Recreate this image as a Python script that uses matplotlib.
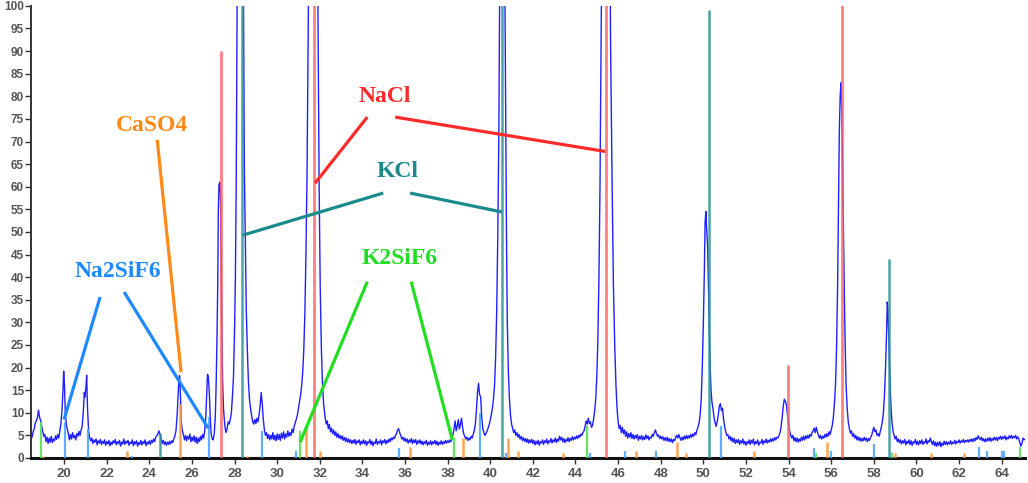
import matplotlib
matplotlib.use("Agg")
import matplotlib.pyplot as plt

scan = [
    (18.45, 5.5), (18.5, 4.6), (18.55, 5.8), (18.6, 6.5), (18.65, 7.8), (18.7, 8.2), (18.75, 9.0), (18.8, 10.6),
    (18.85, 9.0), (18.9, 8.3), (18.95, 7.0), (19.0, 5.8), (19.05, 4.8), (19.1, 5.2), (19.15, 3.6), (19.2, 4.6),
    (19.25, 3.2), (19.3, 4.4), (19.35, 3.5), (19.4, 4.8), (19.45, 3.4), (19.5, 4.2), (19.55, 3.8), (19.6, 4.9),
    (19.65, 4.1), (19.7, 5.2), (19.75, 4.4), (19.8, 6.0), (19.85, 7.5), (19.9, 10.5), (19.95, 15.0), (19.98, 19.2),
    (20.02, 16.0), (20.06, 9.5), (20.12, 7.0), (20.2, 5.4), (20.25, 4.0), (20.3, 5.2), (20.35, 4.2), (20.4, 5.6),
    (20.45, 4.5), (20.5, 5.0), (20.55, 4.0), (20.6, 5.4), (20.65, 4.8), (20.7, 5.9), (20.75, 5.0), (20.8, 6.2),
    (20.85, 7.0), (20.9, 10.0), (20.95, 14.5), (20.98, 13.5), (21.03, 16.0), (21.06, 18.3), (21.1, 11.0), (21.15, 6.0),
    (21.2, 4.5), (21.25, 3.8), (21.3, 4.4), (21.35, 3.2), (21.4, 4.0), (21.45, 3.5), (21.5, 4.2), (21.55, 2.9),
    (21.6, 3.8), (21.65, 3.3), (21.7, 4.1), (21.75, 3.0), (21.8, 3.7), (21.85, 3.2), (21.9, 4.0), (21.95, 2.8),
    (22.0, 3.6), (22.05, 3.1), (22.1, 3.9), (22.15, 2.7), (22.2, 3.5), (22.25, 3.0), (22.3, 3.8), (22.35, 3.3),
    (22.4, 4.1), (22.45, 2.9), (22.5, 3.6), (22.55, 3.2), (22.6, 3.9), (22.65, 2.6), (22.7, 3.5), (22.75, 3.1),
    (22.8, 4.2), (22.85, 3.0), (22.9, 3.7), (22.95, 3.3), (23.0, 3.9), (23.05, 2.8), (23.1, 3.5), (23.15, 3.2),
    (23.2, 4.0), (23.25, 2.7), (23.3, 3.6), (23.35, 3.1), (23.4, 3.8), (23.45, 2.6), (23.5, 3.4), (23.55, 3.0),
    (23.6, 3.9), (23.65, 2.9), (23.7, 3.6), (23.75, 3.2), (23.8, 4.0), (23.85, 2.7), (23.9, 3.5), (23.95, 3.1),
    (24.0, 3.8), (24.05, 3.0), (24.1, 3.9), (24.15, 3.4), (24.2, 4.2), (24.25, 3.6), (24.3, 4.6), (24.35, 4.9),
    (24.4, 5.3), (24.45, 6.0), (24.5, 5.2), (24.55, 4.4), (24.6, 3.2), (24.65, 3.9), (24.7, 3.0), (24.75, 3.6),
    (24.8, 2.8), (24.85, 3.5), (24.9, 3.0), (24.95, 3.7), (25.0, 3.1), (25.05, 3.8), (25.1, 3.4), (25.15, 4.2),
    (25.2, 4.9), (25.25, 6.0), (25.3, 9.0), (25.34, 13.0), (25.38, 16.5), (25.42, 18.2), (25.46, 14.0), (25.5, 8.0),
    (25.55, 6.0), (25.6, 5.2), (25.65, 4.0), (25.7, 5.0), (25.75, 3.8), (25.8, 4.8), (25.85, 4.2), (25.9, 5.3),
    (25.95, 3.6), (26.0, 4.6), (26.05, 3.8), (26.1, 4.9), (26.15, 3.5), (26.2, 4.6), (26.25, 3.2), (26.3, 4.4),
    (26.35, 3.6), (26.4, 4.8), (26.45, 4.0), (26.5, 5.2), (26.55, 4.4), (26.6, 6.0), (26.65, 9.0), (26.7, 15.0),
    (26.73, 18.5), (26.77, 18.0), (26.82, 14.0), (26.86, 9.0), (26.9, 5.5), (26.95, 4.2), (27.0, 4.0), (27.05, 5.5),
    (27.1, 9.5), (27.14, 17.0), (27.18, 28.0), (27.21, 38.0), (27.24, 55.0), (27.27, 60.5), (27.31, 61.0), (27.34, 58.0),
    (27.37, 45.0), (27.4, 30.0), (27.44, 17.0), (27.48, 11.0), (27.52, 8.5), (27.56, 6.5), (27.6, 5.6), (27.65, 6.5),
    (27.7, 8.0), (27.75, 7.5), (27.8, 8.5), (27.85, 10.0), (27.9, 13.5), (27.95, 18.0), (28.0, 28.0), (28.04, 40.0),
    (28.08, 62.0), (28.12, 100.0), (28.2, 160.0), (28.3, 170.0), (28.4, 120.0), (28.46, 64.0), (28.5, 50.0), (28.55, 33.0),
    (28.6, 24.0), (28.65, 17.0), (28.7, 13.0), (28.78, 10.0), (28.85, 8.0), (28.9, 7.5), (28.95, 8.5), (29.0, 7.6),
    (29.05, 8.8), (29.1, 8.0), (29.15, 9.5), (29.2, 11.5), (29.25, 14.5), (29.3, 12.0), (29.35, 8.5), (29.4, 6.2),
    (29.45, 5.0), (29.5, 5.6), (29.55, 4.3), (29.6, 5.2), (29.65, 4.0), (29.7, 5.0), (29.75, 4.2), (29.8, 5.6),
    (29.85, 4.0), (29.9, 5.0), (29.95, 3.8), (30.0, 5.3), (30.05, 4.1), (30.1, 5.2), (30.15, 3.9), (30.2, 5.5),
    (30.25, 4.4), (30.3, 5.8), (30.35, 4.2), (30.4, 5.3), (30.45, 4.6), (30.5, 6.0), (30.55, 4.8), (30.6, 5.6),
    (30.65, 5.0), (30.7, 6.4), (30.75, 5.6), (30.8, 7.0), (30.85, 7.8), (30.9, 8.6), (30.95, 9.5), (31.0, 11.0),
    (31.05, 12.5), (31.1, 14.0), (31.15, 16.0), (31.2, 19.0), (31.25, 24.0), (31.3, 32.0), (31.35, 45.0), (31.4, 62.0),
    (31.45, 90.0), (31.55, 150.0), (31.7, 190.0), (31.85, 150.0), (31.92, 95.0), (31.97, 60.0), (32.02, 38.0), (32.07, 25.0),
    (32.12, 17.0), (32.18, 12.0), (32.25, 9.0), (32.3, 7.5), (32.35, 8.2), (32.4, 6.5), (32.45, 7.4), (32.5, 5.8),
    (32.55, 6.6), (32.6, 5.4), (32.65, 6.2), (32.7, 5.0), (32.75, 5.8), (32.8, 4.6), (32.85, 5.4), (32.9, 4.4),
    (32.95, 5.0), (33.0, 4.2), (33.05, 4.9), (33.1, 3.9), (33.15, 4.6), (33.2, 3.7), (33.25, 4.4), (33.3, 3.5),
    (33.35, 4.2), (33.4, 3.4), (33.45, 4.0), (33.5, 3.2), (33.55, 3.9), (33.6, 3.3), (33.65, 4.1), (33.7, 3.0),
    (33.75, 3.8), (33.8, 3.4), (33.85, 4.0), (33.9, 2.9), (33.95, 3.7), (34.0, 3.2), (34.05, 4.0), (34.1, 3.1),
    (34.15, 3.8), (34.2, 2.8), (34.25, 3.6), (34.3, 3.3), (34.35, 4.1), (34.4, 3.0), (34.45, 3.7), (34.5, 2.7),
    (34.55, 3.5), (34.6, 3.2), (34.65, 4.2), (34.7, 3.0), (34.75, 3.6), (34.8, 3.3), (34.85, 4.0), (34.9, 2.9),
    (34.95, 3.8), (35.0, 3.4), (35.05, 4.1), (35.1, 3.1), (35.15, 3.9), (35.2, 3.4), (35.25, 4.2), (35.3, 3.6),
    (35.35, 4.4), (35.4, 4.0), (35.45, 4.6), (35.5, 4.3), (35.55, 5.0), (35.6, 5.3), (35.65, 6.2), (35.7, 6.5),
    (35.75, 5.6), (35.8, 5.0), (35.85, 4.2), (35.9, 4.6), (35.95, 3.8), (36.0, 4.4), (36.05, 3.6), (36.1, 4.2),
    (36.15, 3.3), (36.2, 4.0), (36.25, 3.5), (36.3, 4.3), (36.35, 3.2), (36.4, 4.0), (36.45, 3.4), (36.5, 4.1),
    (36.55, 3.0), (36.6, 3.8), (36.65, 3.3), (36.7, 4.0), (36.75, 3.1), (36.8, 3.7), (36.85, 2.9), (36.9, 3.6),
    (36.95, 3.2), (37.0, 3.9), (37.05, 2.8), (37.1, 3.5), (37.15, 3.0), (37.2, 3.8), (37.25, 2.9), (37.3, 3.6),
    (37.35, 3.2), (37.4, 3.9), (37.45, 3.0), (37.5, 3.7), (37.55, 2.8), (37.6, 3.5), (37.65, 3.1), (37.7, 3.8),
    (37.75, 3.0), (37.8, 3.6), (37.85, 3.2), (37.9, 3.9), (37.95, 3.3), (38.0, 3.8), (38.05, 3.4), (38.1, 4.0),
    (38.15, 3.6), (38.2, 4.4), (38.25, 5.2), (38.3, 6.5), (38.35, 8.2), (38.4, 6.0), (38.45, 7.0), (38.5, 8.5),
    (38.55, 6.4), (38.6, 7.4), (38.65, 8.8), (38.7, 6.8), (38.75, 5.4), (38.8, 4.8), (38.85, 4.2), (38.9, 4.6),
    (38.95, 3.9), (39.0, 4.4), (39.05, 4.0), (39.1, 4.8), (39.15, 4.4), (39.2, 5.2), (39.25, 6.0), (39.3, 7.5),
    (39.35, 10.5), (39.4, 14.5), (39.45, 16.5), (39.5, 14.0), (39.55, 13.5), (39.6, 9.0), (39.65, 6.5), (39.7, 5.6),
    (39.75, 5.0), (39.8, 5.4), (39.85, 6.0), (39.9, 6.6), (39.95, 7.4), (40.0, 8.4), (40.05, 9.6), (40.1, 11.0),
    (40.15, 13.0), (40.2, 16.0), (40.25, 22.0), (40.3, 32.0), (40.35, 48.0), (40.4, 70.0), (40.45, 110.0), (40.55, 180.0),
    (40.65, 130.0), (40.72, 80.0), (40.76, 50.0), (40.8, 30.0), (40.85, 19.0), (40.9, 13.0), (40.95, 9.5), (41.0, 7.5),
    (41.05, 6.5), (41.1, 5.6), (41.15, 6.2), (41.2, 5.0), (41.25, 5.6), (41.3, 4.6), (41.35, 5.2), (41.4, 4.2),
    (41.45, 4.8), (41.5, 3.9), (41.55, 4.5), (41.6, 3.7), (41.65, 4.3), (41.7, 3.5), (41.75, 4.2), (41.8, 3.3),
    (41.85, 4.0), (41.9, 3.4), (41.95, 4.1), (42.0, 3.2), (42.05, 3.9), (42.1, 2.9), (42.15, 3.7), (42.2, 3.1),
    (42.25, 3.9), (42.3, 2.8), (42.35, 3.6), (42.4, 3.3), (42.45, 4.0), (42.5, 3.0), (42.55, 3.8), (42.6, 3.4),
    (42.65, 4.2), (42.7, 3.1), (42.75, 3.8), (42.8, 3.5), (42.85, 4.3), (42.9, 3.3), (42.95, 4.0), (43.0, 3.6),
    (43.05, 4.4), (43.1, 3.4), (43.15, 4.2), (43.2, 3.7), (43.25, 4.8), (43.3, 4.0), (43.35, 4.6), (43.4, 3.6),
    (43.45, 4.3), (43.5, 3.4), (43.55, 4.1), (43.6, 3.7), (43.65, 4.5), (43.7, 3.6), (43.75, 4.3), (43.8, 3.9),
    (43.85, 4.7), (43.9, 4.0), (43.95, 4.6), (44.0, 4.2), (44.05, 4.9), (44.1, 4.3), (44.15, 5.0), (44.2, 4.6),
    (44.25, 5.3), (44.3, 5.0), (44.35, 5.6), (44.4, 6.0), (44.45, 7.0), (44.5, 8.2), (44.55, 7.5), (44.6, 8.8),
    (44.65, 7.6), (44.7, 8.0), (44.75, 6.8), (44.8, 7.2), (44.85, 8.6), (44.9, 10.5), (44.95, 13.0), (45.0, 18.0),
    (45.05, 26.0), (45.1, 40.0), (45.15, 60.0), (45.2, 90.0), (45.3, 160.0), (45.42, 210.0), (45.55, 160.0), (45.65, 90.0),
    (45.72, 60.0), (45.78, 38.0), (45.84, 25.0), (45.9, 16.0), (45.95, 11.0), (46.0, 8.0), (46.05, 6.5), (46.1, 7.2),
    (46.15, 5.6), (46.2, 6.8), (46.25, 5.4), (46.3, 6.2), (46.35, 4.8), (46.4, 5.8), (46.45, 4.4), (46.5, 5.4),
    (46.55, 4.6), (46.6, 5.6), (46.65, 4.3), (46.7, 5.2), (46.75, 4.2), (46.8, 5.0), (46.85, 4.4), (46.9, 5.2),
    (46.95, 3.9), (47.0, 4.8), (47.05, 4.2), (47.1, 5.0), (47.15, 4.0), (47.2, 4.7), (47.25, 4.1), (47.3, 5.1),
    (47.35, 4.3), (47.4, 4.9), (47.45, 4.0), (47.5, 4.6), (47.55, 4.4), (47.6, 5.2), (47.65, 4.8), (47.7, 5.6),
    (47.75, 6.2), (47.8, 5.4), (47.85, 4.8), (47.9, 5.1), (47.95, 4.3), (48.0, 4.8), (48.05, 4.2), (48.1, 4.7),
    (48.15, 3.9), (48.2, 4.5), (48.25, 3.8), (48.3, 4.6), (48.35, 3.7), (48.4, 4.3), (48.45, 3.6), (48.5, 4.2),
    (48.55, 3.4), (48.6, 4.1), (48.65, 3.8), (48.7, 4.6), (48.75, 5.0), (48.8, 4.4), (48.85, 5.2), (48.9, 4.5),
    (48.95, 3.9), (49.0, 4.6), (49.05, 4.0), (49.1, 4.8), (49.15, 4.2), (49.2, 5.0), (49.25, 4.3), (49.3, 4.9),
    (49.35, 4.4), (49.4, 5.2), (49.45, 4.6), (49.5, 5.3), (49.55, 4.8), (49.6, 5.6), (49.65, 5.2), (49.7, 6.2),
    (49.75, 6.8), (49.8, 7.8), (49.85, 9.5), (49.9, 13.0), (49.95, 20.0), (50.0, 30.0), (50.05, 42.0), (50.08, 52.0),
    (50.12, 54.5), (50.16, 50.0), (50.2, 47.0), (50.24, 38.0), (50.28, 28.0), (50.32, 20.0), (50.36, 15.0), (50.4, 12.5),
    (50.45, 11.0), (50.5, 9.0), (50.55, 7.8), (50.6, 7.0), (50.65, 8.0), (50.7, 9.5), (50.75, 11.5), (50.8, 12.0),
    (50.85, 10.5), (50.9, 11.0), (50.95, 8.5), (51.0, 7.0), (51.05, 5.8), (51.1, 5.0), (51.15, 5.2), (51.2, 4.2),
    (51.25, 4.8), (51.3, 3.8), (51.35, 4.5), (51.4, 3.5), (51.45, 4.3), (51.5, 3.2), (51.55, 4.0), (51.6, 3.4),
    (51.65, 4.1), (51.7, 3.0), (51.75, 3.8), (51.8, 3.3), (51.85, 4.2), (51.9, 3.1), (51.95, 3.7), (52.0, 2.8),
    (52.05, 3.6), (52.1, 3.2), (52.15, 4.0), (52.2, 3.0), (52.25, 3.9), (52.3, 3.3), (52.35, 4.2), (52.4, 2.9),
    (52.45, 3.6), (52.5, 3.2), (52.55, 4.0), (52.6, 2.8), (52.65, 3.5), (52.7, 3.3), (52.75, 4.1), (52.8, 3.0),
    (52.85, 3.8), (52.9, 3.4), (52.95, 4.2), (53.0, 3.3), (53.05, 3.9), (53.1, 3.5), (53.15, 4.2), (53.2, 3.6),
    (53.25, 4.3), (53.3, 3.8), (53.35, 4.5), (53.4, 4.0), (53.45, 4.6), (53.5, 4.4), (53.55, 5.0), (53.6, 5.6),
    (53.65, 7.0), (53.7, 9.0), (53.75, 11.5), (53.8, 13.0), (53.85, 12.5), (53.9, 11.8), (53.95, 9.5), (54.0, 7.5),
    (54.05, 6.0), (54.1, 5.0), (54.15, 4.4), (54.2, 5.0), (54.25, 3.8), (54.3, 4.5), (54.35, 3.6), (54.4, 4.4),
    (54.45, 3.5), (54.5, 4.2), (54.55, 3.7), (54.6, 4.6), (54.65, 3.9), (54.7, 4.8), (54.75, 4.0), (54.8, 4.9),
    (54.85, 4.3), (54.9, 5.0), (54.95, 4.4), (55.0, 5.2), (55.05, 4.8), (55.1, 5.6), (55.15, 6.0), (55.2, 6.6),
    (55.25, 5.6), (55.3, 6.8), (55.35, 5.8), (55.4, 5.0), (55.45, 4.4), (55.5, 5.0), (55.55, 4.2), (55.6, 4.8),
    (55.65, 4.4), (55.7, 5.2), (55.75, 4.6), (55.8, 5.4), (55.85, 4.8), (55.9, 5.8), (55.95, 5.2), (56.0, 6.2),
    (56.05, 7.2), (56.1, 9.0), (56.15, 12.0), (56.2, 16.0), (56.25, 24.0), (56.3, 38.0), (56.34, 55.0), (56.38, 72.0),
    (56.42, 80.0), (56.46, 83.0), (56.5, 76.0), (56.54, 62.0), (56.58, 48.0), (56.62, 35.0), (56.66, 24.0), (56.7, 16.0),
    (56.75, 11.0), (56.8, 8.0), (56.85, 6.5), (56.9, 5.5), (56.95, 6.0), (57.0, 4.8), (57.05, 5.4), (57.1, 4.4),
    (57.15, 5.0), (57.2, 4.0), (57.25, 4.7), (57.3, 3.9), (57.35, 4.5), (57.4, 3.7), (57.45, 4.3), (57.5, 3.8),
    (57.55, 4.6), (57.6, 3.9), (57.65, 4.4), (57.7, 3.6), (57.75, 4.3), (57.8, 3.9), (57.85, 4.6), (57.9, 5.0),
    (57.95, 6.0), (58.0, 6.8), (58.05, 5.8), (58.1, 6.2), (58.15, 5.0), (58.2, 5.4), (58.25, 4.8), (58.3, 5.8),
    (58.35, 6.8), (58.4, 8.0), (58.45, 10.0), (58.5, 14.0), (58.55, 20.0), (58.6, 28.0), (58.63, 34.5), (58.66, 33.0),
    (58.7, 27.0), (58.74, 20.0), (58.78, 14.0), (58.82, 10.0), (58.86, 7.5), (58.9, 6.0), (58.95, 5.0), (59.0, 4.2),
    (59.05, 4.8), (59.1, 3.6), (59.15, 4.2), (59.2, 3.4), (59.25, 4.0), (59.3, 3.1), (59.35, 3.8), (59.4, 3.3),
    (59.45, 4.1), (59.5, 2.9), (59.55, 3.7), (59.6, 3.2), (59.65, 4.0), (59.7, 3.0), (59.75, 3.8), (59.8, 2.8),
    (59.85, 3.6), (59.9, 3.3), (59.95, 4.1), (60.0, 3.0), (60.05, 3.7), (60.1, 2.9), (60.15, 3.8), (60.2, 3.2),
    (60.25, 4.0), (60.3, 3.0), (60.35, 3.6), (60.4, 3.3), (60.45, 4.2), (60.5, 3.1), (60.55, 3.8), (60.6, 3.5),
    (60.65, 4.4), (60.7, 3.6), (60.75, 3.0), (60.8, 3.8), (60.85, 2.7), (60.9, 3.5), (60.95, 2.6), (61.0, 3.4),
    (61.05, 2.8), (61.1, 3.6), (61.15, 2.5), (61.2, 3.3), (61.25, 2.8), (61.3, 3.7), (61.35, 3.0), (61.4, 3.6),
    (61.45, 2.9), (61.5, 3.5), (61.55, 3.1), (61.6, 3.8), (61.65, 3.0), (61.7, 3.5), (61.75, 3.2), (61.8, 3.9),
    (61.85, 3.1), (61.9, 3.7), (61.95, 3.4), (62.0, 4.0), (62.05, 3.3), (62.1, 3.8), (62.15, 3.5), (62.2, 4.1),
    (62.25, 3.4), (62.3, 3.9), (62.35, 3.6), (62.4, 4.0), (62.45, 3.5), (62.5, 4.1), (62.55, 3.7), (62.6, 4.2),
    (62.65, 3.6), (62.7, 4.3), (62.75, 3.8), (62.8, 4.5), (62.85, 4.1), (62.9, 4.9), (62.95, 4.4), (63.0, 4.0),
    (63.05, 4.6), (63.1, 3.8), (63.15, 4.3), (63.2, 3.6), (63.25, 4.2), (63.3, 3.7), (63.35, 4.4), (63.4, 3.8),
    (63.45, 4.5), (63.5, 3.7), (63.55, 4.3), (63.6, 3.9), (63.65, 4.6), (63.7, 4.0), (63.75, 4.5), (63.8, 3.8),
    (63.85, 4.6), (63.9, 4.2), (63.95, 4.8), (64.0, 4.1), (64.05, 4.7), (64.1, 4.3), (64.15, 4.9), (64.2, 4.0),
    (64.25, 4.6), (64.3, 4.2), (64.35, 4.9), (64.4, 4.4), (64.45, 5.0), (64.5, 4.3), (64.55, 4.8), (64.6, 4.5),
    (64.65, 5.0), (64.7, 4.2), (64.75, 4.7), (64.8, 4.3), (64.85, 3.5), (64.9, 2.6), (64.95, 3.2), (65.0, 4.4),
    (65.05, 4.0), (65.1, 4.2),
]
tth = [p[0] for p in scan]
counts = [p[1] for p in scan]

# reference patterns (stick positions / relative heights)
nacl_pos = [27.37, 31.72, 45.42, 53.95, 56.52]
nacl_int = [90, 150, 150, 20.5, 150]

kcl_pos = [24.5, 28.35, 40.56, 50.25, 58.72]
kcl_int = [5.5, 150, 150, 99, 44]

na2sif6_pos = [20.02, 21.1, 23.2, 26.78, 29.27, 30.9, 35.7, 39.5, 40.75, 44.7, 46.3, 47.8,
               50.85, 55.2, 56.0, 58.0, 62.95, 63.3, 64.0, 64.12]
na2sif6_int = [8, 6.5, 0.5, 9, 6, 1.5, 2.2, 10, 1.2, 1.2, 1.5, 1.5,
               7, 2.2, 1.5, 3, 2.5, 1.5, 1.5, 1.5]

caso4_pos = [19.0, 22.95, 25.45, 28.6, 31.35, 32.0, 36.25, 38.7, 40.85, 41.3, 43.4,
             46.85, 48.75, 49.2, 52.4, 55.8, 59.0, 60.7, 62.25]
caso4_int = [0.4, 1.5, 12, 0.4, 7.2, 1.5, 2.5, 4.5, 4.5, 1.5, 1.2,
             1.5, 3.5, 1.2, 1.5, 3.5, 1.0, 1.2, 1.2]

k2sif6_pos = [18.93, 31.08, 38.3, 44.52, 55.3, 58.85, 64.85]
k2sif6_int = [8, 6, 4.5, 7, 1.2, 1.0, 2.5]

fig = plt.figure(figsize=(10.28, 4.83), dpi=100)
ax = fig.add_axes([0.0302, 0.0518, 0.967, 0.936])

ax.plot(tth, counts, color="#2020ff", lw=1.0, zorder=2)

ax.vlines(na2sif6_pos, 0, na2sif6_int, color="#4da6ff", lw=1.6, alpha=0.9, zorder=3)
ax.vlines(caso4_pos, 0, caso4_int, color="#ff9a40", lw=1.8, alpha=0.9, zorder=3)
ax.vlines(k2sif6_pos, 0, k2sif6_int, color="#55e055", lw=1.6, alpha=0.9, zorder=3)
ax.vlines(kcl_pos, 0, kcl_int, color="#2a9494", lw=1.8, alpha=0.85, zorder=3)
ax.vlines(nacl_pos, 0, nacl_int, color="#ff6060", lw=2.0, alpha=0.8, zorder=3)

serif = ["Liberation Serif", "DejaVu Serif"]
labels = [
    ("NaCl", 35.07, 79.9, "#ff2a2a", [((34.23, 75.4), (31.78, 60.8)), ((35.54, 75.4), (45.4, 67.8))]),
    ("CaSO4", 24.13, 73.5, "#ff8a1a", [((24.37, 70.4), (25.49, 19.0))]),
    ("KCl", 35.63, 63.3, "#1a8a8a", [((34.98, 58.6), (28.4, 49.3)), ((36.24, 58.6), (40.56, 54.4))]),
    ("K2SiF6", 35.73, 44.2, "#22dd22", [((34.23, 39.0), (31.08, 3.5)), ((36.29, 39.0), (38.22, 4.0))]),
    ("Na2SiF6", 22.54, 41.2, "#1e88ff", [((21.69, 35.6), (20.0, 8.5)), ((22.82, 36.7), (26.76, 6.6))]),
]
for text, x, y, col, segs in labels:
    ax.text(x, y, text, color=col, fontsize=17, fontweight="bold", family=serif,
            ha="center", va="center", zorder=5)
    for (x0, y0), (x1, y1) in segs:
        ax.plot([x0, x1], [y0, y1], color=col, lw=2.3, zorder=4, solid_capstyle="butt")

ax.set_xlim(18.45, 65.1)
ax.set_ylim(0, 100)
ax.set_xticks(range(20, 65, 2))
ax.set_yticks(range(0, 101, 5))

for s in ["top", "right"]:
    ax.spines[s].set_visible(False)
ax.spines["bottom"].set_linewidth(2.2)
ax.spines["bottom"].set_color("#111111")
ax.spines["left"].set_linewidth(1.4)
ax.spines["left"].set_color("#333333")

ax.tick_params(axis="x", length=4, width=1, colors="#333333", labelcolor="#555555",
               labelsize=9.5, pad=3)
ax.tick_params(axis="y", length=4, width=1, colors="#333333", labelcolor="#555555",
               labelsize=8.5, pad=1)
for lbl in ax.get_xticklabels() + ax.get_yticklabels():
    lbl.set_family(["Liberation Sans", "DejaVu Sans"])
    lbl.set_fontweight("bold")

fig.savefig("out.png", dpi=100)
